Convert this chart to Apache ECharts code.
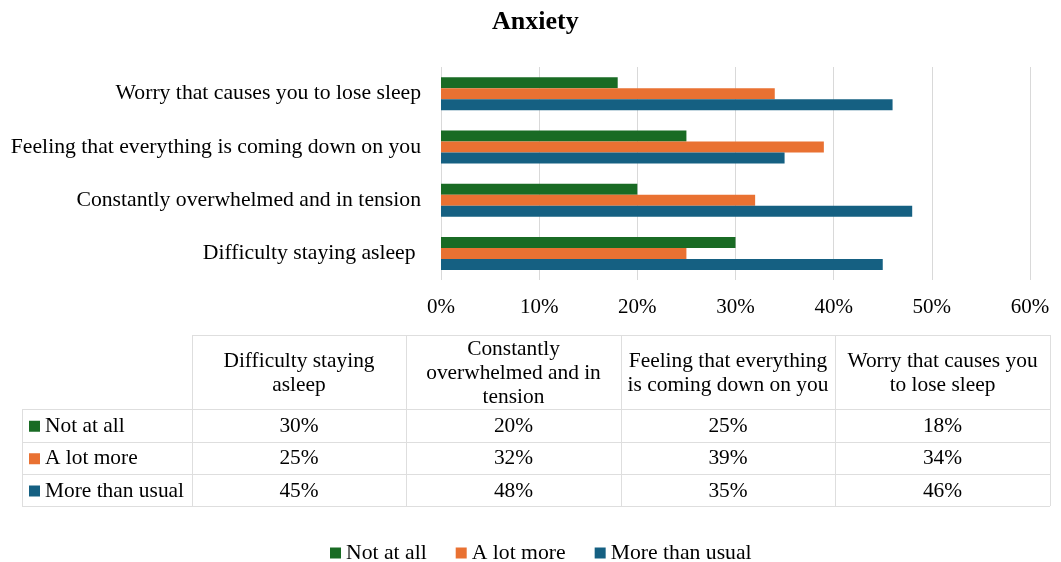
<!DOCTYPE html>
<html>
<head>
<meta charset="utf-8">
<script src="https://cdn.jsdelivr.net/npm/echarts@6/dist/echarts.min.js"></script>
<style>
  html, body { margin: 0; padding: 0; background: #fff; }
  #chart { width: 1061px; height: 562px; }
</style>
</head>
<body>
<div id="chart"></div>
<script>
// Survey categories (bottom to top on the bar chart, left to right in the table)
const categories = [
  'Difficulty staying asleep ',
  'Constantly overwhelmed and in tension',
  'Feeling that everything is coming down on you',
  'Worry that causes you to lose sleep'
];
// Table column headings, wrapped to fit their cells
const tableHeadings = [
  'Difficulty staying\nasleep',
  'Constantly\noverwhelmed and in\ntension',
  'Feeling that everything\nis coming down on you',
  'Worry that causes you\nto lose sleep'
];
const seriesNames = ['Not at all', 'A lot more', 'More than usual'];
const notAtAll = [30, 20, 25, 18];
const aLotMore = [25, 32, 39, 34];
const moreThanUsual = [45, 48, 35, 46];
const xTicks = { min: 0, max: 60, step: 10 };

const colors = ['#196B24', '#E97132', '#156082'];
const seriesValues = [notAtAll, aLotMore, moreThanUsual];
const FONT = '"Liberation Serif", "Times New Roman", serif';
const GRID_LINE = '#d9d9d9';
const TABLE_LINE = '#dedede';

// Data table geometry
const table = {
  left: 22,
  colEdges: [192, 406, 621, 835, 1050],
  top: 335,
  rowEdges: [409, 441.5, 474, 506]
};

function buildTable() {
  const els = [];
  const line = (x1, y1, x2, y2) => els.push({
    type: 'line',
    shape: { x1: x1, y1: y1, x2: x2, y2: y2 },
    style: { stroke: TABLE_LINE, lineWidth: 1 },
    silent: true
  });
  const right = table.colEdges[table.colEdges.length - 1];
  const bottom = table.rowEdges[table.rowEdges.length - 1];
  // horizontal rules
  line(table.colEdges[0], table.top + 0.5, right, table.top + 0.5);
  table.rowEdges.forEach(y => line(table.left, Math.round(y) + 0.5, right, Math.round(y) + 0.5));
  // vertical rules
  line(table.left + 0.5, table.rowEdges[0], table.left + 0.5, bottom);
  table.colEdges.forEach(x => line(x + 0.5, table.top, x + 0.5, bottom));

  // column headings
  tableHeadings.forEach((t, i) => {
    els.push({
      type: 'text',
      silent: true,
      style: {
        text: t,
        x: (table.colEdges[i] + table.colEdges[i + 1]) / 2,
        y: (table.top + table.rowEdges[0]) / 2 + 1,
        align: 'center',
        verticalAlign: 'middle',
        font: '21.4px ' + FONT,
        lineHeight: 24,
        fill: '#000'
      }
    });
  });

  // row headers with colour keys, then values
  seriesNames.forEach((name, r) => {
    const cy = (table.rowEdges[r] + table.rowEdges[r + 1]) / 2 + 1;
    els.push({
      type: 'rect',
      silent: true,
      shape: { x: 29, y: cy - 5.5, width: 11, height: 11 },
      style: { fill: colors[r] }
    });
    els.push({
      type: 'text',
      silent: true,
      style: {
        text: name,
        x: 45,
        y: cy,
        align: 'left',
        verticalAlign: 'middle',
        font: '21.4px ' + FONT,
        fill: '#000'
      }
    });
    seriesValues[r].forEach((v, c) => {
      els.push({
        type: 'text',
        silent: true,
        style: {
          text: v + '%',
          x: (table.colEdges[c] + table.colEdges[c + 1]) / 2,
          y: cy,
          align: 'center',
          verticalAlign: 'middle',
          font: '21.4px ' + FONT,
          fill: '#000'
        }
      });
    });
  });
  return els;
}

const chart = echarts.init(document.getElementById('chart'), null, { renderer: 'canvas' });

chart.setOption({
  animation: false,
  backgroundColor: '#fff',
  textStyle: { fontFamily: FONT },
  title: {
    text: 'Anxiety',
    left: 492,
    top: 9,
    padding: 0,
    textStyle: { fontFamily: FONT, fontSize: 26, fontWeight: 'bold', color: '#000' }
  },
  legend: {
    data: seriesNames,
    top: 542,
    left: 330,
    padding: 0,
    icon: 'rect',
    itemWidth: 11,
    itemHeight: 11,
    itemGap: 29,
    textStyle: { fontFamily: FONT, fontSize: 21.7, color: '#000' }
  },
  grid: { left: 441, right: 31, top: 67, bottom: 282 },
  xAxis: {
    type: 'value',
    min: xTicks.min,
    max: xTicks.max,
    interval: xTicks.step,
    axisLine: { show: false },
    axisTick: { show: false },
    splitLine: { show: true, lineStyle: { color: GRID_LINE, width: 1 } },
    axisLabel: {
      formatter: '{value}%',
      fontFamily: FONT,
      fontSize: 21,
      color: '#000',
      margin: 17
    }
  },
  yAxis: {
    type: 'category',
    data: categories,
    axisLine: { show: false },
    axisTick: { show: false },
    splitLine: { show: false },
    axisLabel: {
      fontFamily: FONT,
      fontSize: 21.7,
      color: '#000',
      margin: 20
    }
  },
  series: seriesNames.map((name, i) => ({
    name: name,
    type: 'bar',
    data: seriesValues[i],
    barWidth: 11,
    barGap: '0%',
    itemStyle: { color: colors[i] }
  })),
  graphic: buildTable()
});
</script>
</body>
</html>
